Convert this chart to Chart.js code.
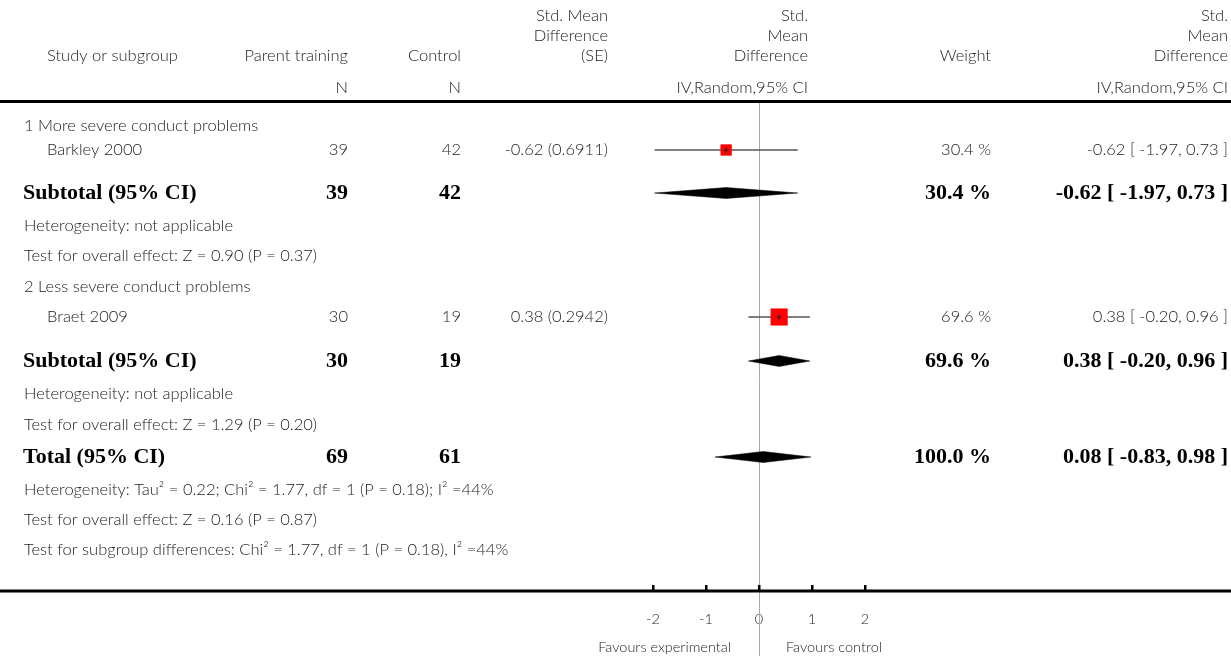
<!DOCTYPE html>
<html>
<head>
<meta charset="utf-8">
<script src="https://cdn.jsdelivr.net/npm/chart.js@4.4.1/dist/chart.umd.min.js"></script>
<style>
  html, body { margin: 0; padding: 0; background: #fff; }
  #wrap { width: 1231px; height: 656px; }
</style>
</head>
<body>
<div id="wrap"><canvas id="forest" width="1231" height="656"></canvas></div>
<script>
// individual studies
var studyNames = ['Barkley 2000', 'Braet 2009'];
var studyExpN = [39, 30];
var studyCtrlN = [42, 19];
var studySmd = [-0.62, 0.38];
var studySe = [0.6911, 0.2942];
var studyLo = [-1.97, -0.20];
var studyHi = [0.73, 0.96];
var studyWeight = [30.4, 69.6];

// pooled estimates: subtotal 1, subtotal 2, total
var poolLabels = ['Subtotal (95% CI)', 'Subtotal (95% CI)', 'Total (95% CI)'];
var poolExpN = [39, 30, 69];
var poolCtrlN = [42, 19, 61];
var poolEst = [-0.62, 0.38, 0.08];
var poolLo = [-1.97, -0.20, -0.83];
var poolHi = [0.73, 0.96, 0.98];
var poolWeight = [30.4, 69.6, 100.0];

var subgroupNames = ['1 More severe conduct problems', '2 Less severe conduct problems'];
var statLines = [
  'Heterogeneity: not applicable',
  'Test for overall effect: Z = 0.90 (P = 0.37)',
  'Heterogeneity: not applicable',
  'Test for overall effect: Z = 1.29 (P = 0.20)',
  'Heterogeneity: Tau\u00b2 = 0.22; Chi\u00b2 = 1.77, df = 1 (P = 0.18); I\u00b2 =44%',
  'Test for overall effect: Z = 0.16 (P = 0.87)',
  'Test for subgroup differences: Chi\u00b2 = 1.77, df = 1 (P = 0.18), I\u00b2 =44%'
];
var xTicks = [-2, -1, 0, 1, 2];
var favourLabels = ['Favours experimental', 'Favours control'];

// layout: vertical row positions (top -> down) and column edges
var subgroupRow = [126, 287];
var studyRow = [150, 317];
var poolRow = [193, 361, 457];
var statRow = [226, 256, 394, 425, 490, 520, 550];
var headRow = [16, 36, 56, 88];
var AXIS_H = 65;
var col = { label: 24, study: 47, pooled: 23, expN: 348, ctrlN: 461, se: 608, plot: 808, weight: 991, ci: 1228 };

var thin = '300 16.5px Lato, "Noto Sans", sans-serif';
var bold = 'bold 22px "Liberation Serif", "DejaVu Serif", serif';
var textGrey = '#222';

function f2(v) { return v.toFixed(2); }
function ciText(e, l, h) { return f2(e) + ' [ ' + f2(l) + ', ' + f2(h) + ' ]'; }

var datasets = [];
// confidence interval whiskers
for (var i = 0; i < studyNames.length; i++) {
  datasets.push({
    data: [{ x: studyLo[i], y: studyRow[i] }, { x: studyHi[i], y: studyRow[i] }],
    borderColor: '#555', borderWidth: 1.5, pointRadius: 0, showLine: true, order: 3
  });
}
// weighted squares
datasets.push({
  data: studySmd.map(function (v, i) { return { x: v, y: studyRow[i] }; }),
  showLine: false, pointStyle: 'rect', backgroundColor: '#ff0000', borderWidth: 0,
  pointRadius: studyWeight.map(function (w) { return 2.05 * Math.sqrt(w) / Math.SQRT2; }),
  order: 2
});
// centre marks
datasets.push({
  data: studySmd.map(function (v, i) { return { x: v, y: studyRow[i] }; }),
  showLine: false, pointStyle: 'cross', pointRadius: 2.5, borderColor: '#222', borderWidth: 1,
  backgroundColor: '#222', order: 1
});
// diamonds
for (var j = 0; j < poolEst.length; j++) {
  var yy = poolRow[j];
  datasets.push({
    data: [
      { x: poolLo[j], y: yy }, { x: poolEst[j], y: yy - 5.5 },
      { x: poolHi[j], y: yy }, { x: poolEst[j], y: yy + 5.5 }, { x: poolLo[j], y: yy }
    ],
    borderColor: '#000', backgroundColor: '#000', borderWidth: 0.5, fill: 'shape',
    pointRadius: 0, showLine: true, tension: 0, order: 2
  });
}

var forestTable = {
  id: 'forestTable',
  beforeDatasetsDraw: function (chart) {
    var ctx = chart.ctx, xs = chart.scales.x;
    var x0 = Math.round(xs.getPixelForValue(0)) + 0.5;
    ctx.save();
    ctx.strokeStyle = '#a8a8a8';
    ctx.lineWidth = 1;
    ctx.beginPath();
    ctx.moveTo(x0, 103);
    ctx.lineTo(x0, chart.height);
    ctx.stroke();
    ctx.restore();
  },
  afterDraw: function (chart) {
    var ctx = chart.ctx, xs = chart.scales.x, ys = chart.scales.y;
    var W = chart.width, bottom = chart.chartArea.bottom;
    function txt(s, x, y, align, font, color) {
      ctx.font = font;
      ctx.fillStyle = color;
      ctx.textAlign = align;
      ctx.textBaseline = 'middle';
      ctx.fillText(s, x, y);
    }
    function Y(r) { return ys.getPixelForValue(r); }
    var h = headRow;
    ctx.save();

    // header
    txt('Study or subgroup', col.study, h[2], 'left', thin, textGrey);
    txt('Parent training', col.expN, h[2], 'right', thin, textGrey);
    txt('Control', col.ctrlN, h[2], 'right', thin, textGrey);
    txt('Std. Mean', col.se, h[0], 'right', thin, textGrey);
    txt('Difference', col.se, h[1], 'right', thin, textGrey);
    txt('(SE)', col.se, h[2], 'right', thin, textGrey);
    txt('Std.', col.plot, h[0], 'right', thin, textGrey);
    txt('Mean', col.plot, h[1], 'right', thin, textGrey);
    txt('Difference', col.plot, h[2], 'right', thin, textGrey);
    txt('Weight', col.weight, h[2], 'right', thin, textGrey);
    txt('Std.', col.ci, h[0], 'right', thin, textGrey);
    txt('Mean', col.ci, h[1], 'right', thin, textGrey);
    txt('Difference', col.ci, h[2], 'right', thin, textGrey);
    txt('N', col.expN, h[3], 'right', thin, textGrey);
    txt('N', col.ctrlN, h[3], 'right', thin, textGrey);
    txt('IV,Random,95% CI', col.plot, h[3], 'right', thin, textGrey);
    txt('IV,Random,95% CI', col.ci, h[3], 'right', thin, textGrey);

    ctx.fillStyle = '#000';
    ctx.fillRect(0, 100, W, 3);

    // subgroup headings
    subgroupNames.forEach(function (s, i) { txt(s, col.label, Y(subgroupRow[i]), 'left', thin, textGrey); });

    // study rows
    studyNames.forEach(function (s, i) {
      var y = Y(studyRow[i]);
      txt(s, col.study, y, 'left', thin, textGrey);
      txt(String(studyExpN[i]), col.expN, y, 'right', thin, textGrey);
      txt(String(studyCtrlN[i]), col.ctrlN, y, 'right', thin, textGrey);
      txt(f2(studySmd[i]) + ' (' + studySe[i].toFixed(4) + ')', col.se, y, 'right', thin, textGrey);
      txt(studyWeight[i].toFixed(1) + ' %', col.weight, y, 'right', thin, textGrey);
      txt(ciText(studySmd[i], studyLo[i], studyHi[i]), col.ci, y, 'right', thin, textGrey);
    });

    // pooled rows
    poolLabels.forEach(function (s, i) {
      var y = Y(poolRow[i]);
      txt(s, col.pooled, y, 'left', bold, '#000');
      txt(String(poolExpN[i]), col.expN, y, 'right', bold, '#000');
      txt(String(poolCtrlN[i]), col.ctrlN, y, 'right', bold, '#000');
      txt(poolWeight[i].toFixed(1) + ' %', col.weight, y, 'right', bold, '#000');
      txt(ciText(poolEst[i], poolLo[i], poolHi[i]), col.ci, y, 'right', bold, '#000');
    });

    // heterogeneity / tests
    statLines.forEach(function (s, i) { txt(s, col.label, Y(statRow[i]), 'left', thin, textGrey); });

    // axis line + upward tick marks
    ctx.fillStyle = '#000';
    ctx.fillRect(0, bottom - 1.5, W, 3);
    xTicks.forEach(function (v) {
      var px = xs.getPixelForValue(v);
      ctx.fillRect(Math.round(px) - 1, bottom - 6, 2.5, 5);
    });

    // favours labels
    var zx = xs.getPixelForValue(0);
    var small = '300 14.5px Lato, "Noto Sans", sans-serif';
    txt(favourLabels[0], zx - 28, chart.height - 9, 'right', small, textGrey);
    txt(favourLabels[1], zx + 27, chart.height - 9, 'left', small, textGrey);
    ctx.restore();
  }
};

new Chart(document.getElementById('forest'), {
  type: 'line',
  data: { datasets: datasets },
  options: {
    responsive: false,
    devicePixelRatio: 1,
    animation: false,
    layout: { autoPadding: false, padding: { left: 600, right: 313, top: 0, bottom: 0 } },
    plugins: { legend: { display: false }, tooltip: { enabled: false } },
    scales: {
      x: {
        type: 'linear', position: 'bottom', min: -3, max: 3,
        afterBuildTicks: function (s) { s.ticks = xTicks.map(function (v) { return { value: v }; }); },
        afterFit: function (s) { s.height = AXIS_H; },
        grid: { display: false },
        border: { display: false },
        ticks: {
          padding: 12, color: textGrey, maxRotation: 0,
          font: { family: 'Lato, "Noto Sans", sans-serif', size: 14.5, weight: '300' },
          callback: function (v) { return String(v); }
        }
      },
      y: {
        type: 'linear', min: 0, max: 656 - AXIS_H, reverse: true, display: false
      }
    }
  },
  plugins: [forestTable]
});
</script>
</body>
</html>
